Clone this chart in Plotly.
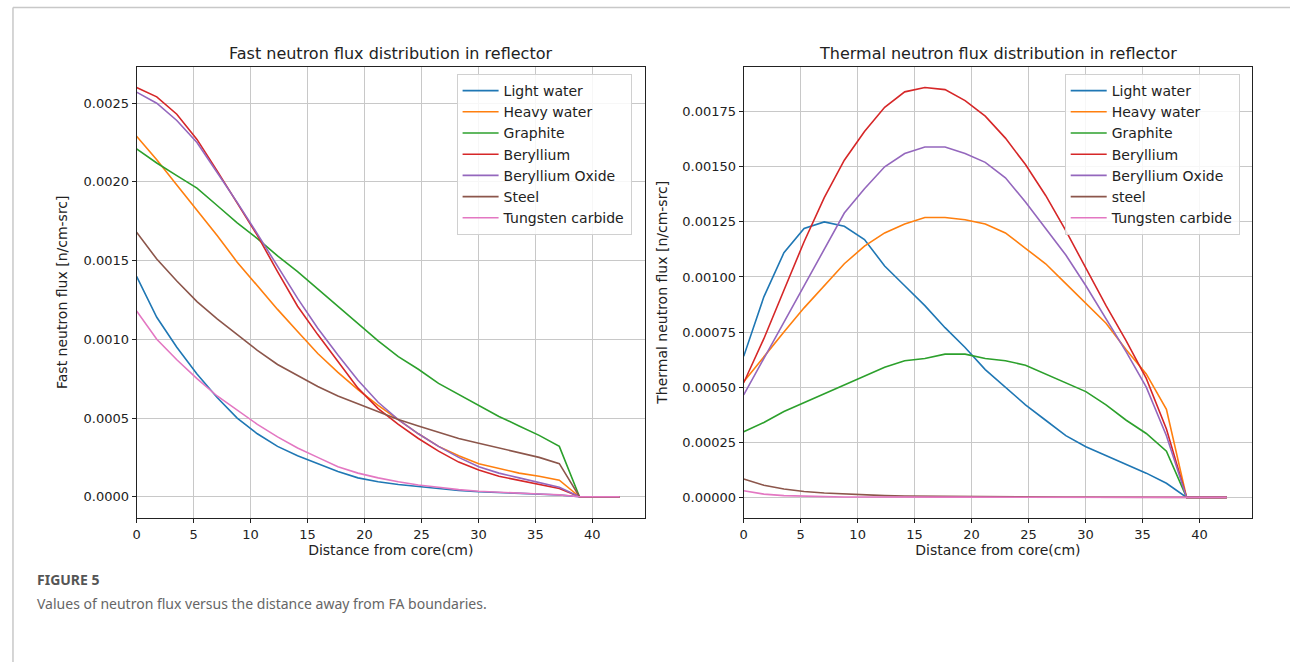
import plotly.graph_objects as go

W, H = 1290, 662

x = [0, 1.77, 3.53, 5.3, 7.07, 8.83, 10.6, 12.37, 14.13, 15.9, 17.67, 19.43, 21.2,
     22.97, 24.73, 26.5, 28.27, 30.03, 31.8, 33.57, 35.33, 37.1, 38.87, 40.63, 42.4]

names_fast = ["Light water", "Heavy water", "Graphite", "Beryllium", "Beryllium Oxide",
              "Steel", "Tungsten carbide"]
names_thermal = ["Light water", "Heavy water", "Graphite", "Beryllium", "Beryllium Oxide",
                 "steel", "Tungsten carbide"]

# Fast neutron flux [n/cm-src]
fast_light_water = [0.00140, 0.00114, 0.00095, 0.00078, 0.00063, 0.00050, 0.00040, 0.00032,
                    0.00026, 0.00021, 0.00016, 0.00012, 0.000095, 0.000078, 0.000064, 0.000052,
                    0.000040, 0.000032, 0.000026, 0.000020, 0.000016, 0.000011, 0, 0, 0]
fast_heavy_water = [0.00229, 0.00214, 0.00198, 0.00182, 0.00166, 0.00149, 0.00134, 0.00119,
                    0.00105, 0.00091, 0.00079, 0.00068, 0.00058, 0.00049, 0.00040, 0.00032,
                    0.00026, 0.00021, 0.00018, 0.00015, 0.00013, 0.000105, 0, 0, 0]
fast_graphite = [0.00221, 0.00212, 0.00204, 0.00196, 0.00185, 0.00174, 0.00164, 0.00153,
                 0.00143, 0.00132, 0.00121, 0.00110, 0.00099, 0.00089, 0.00081, 0.00072,
                 0.00065, 0.00058, 0.00051, 0.00045, 0.00039, 0.00032, 0, 0, 0]
fast_beryllium = [0.00260, 0.00254, 0.00243, 0.00227, 0.00207, 0.00187, 0.00166, 0.00143,
                  0.00121, 0.00103, 0.00086, 0.00069, 0.00056, 0.00046, 0.00037, 0.00029,
                  0.00022, 0.00017, 0.00013, 0.000105, 0.00008, 0.000053, 0, 0, 0]
fast_beo = [0.00257, 0.00250, 0.00239, 0.00225, 0.00206, 0.00187, 0.00167, 0.00146,
            0.00126, 0.00107, 0.00090, 0.00074, 0.00060, 0.00049, 0.00040, 0.00032,
            0.00025, 0.00019, 0.00015, 0.00012, 0.00009, 0.00006, 0, 0, 0]
fast_steel = [0.00168, 0.00151, 0.00137, 0.00124, 0.00113, 0.00103, 0.00093, 0.00084,
              0.00077, 0.00070, 0.00064, 0.00059, 0.00054, 0.00049, 0.00045, 0.00041,
              0.00037, 0.00034, 0.00031, 0.00028, 0.00025, 0.00021, 0, 0, 0]
fast_wc = [0.00118, 0.00100, 0.00087, 0.00075, 0.00064, 0.00055, 0.00046, 0.00038,
           0.00031, 0.00025, 0.00019, 0.00015, 0.00012, 0.000095, 0.000075, 0.000060,
           0.000045, 0.000035, 0.000028, 0.000022, 0.000017, 0.000012, 0, 0, 0]

# Thermal neutron flux [n/cm-src]
th_light_water = [0.00064, 0.00091, 0.00111, 0.00122, 0.00125, 0.00123, 0.00117, 0.00105,
                  0.00096, 0.00087, 0.00077, 0.00068, 0.00058, 0.00050, 0.00042, 0.00035,
                  0.00028, 0.00023, 0.00019, 0.00015, 0.00011, 0.000064, 0, 0, 0]
th_heavy_water = [0.000525, 0.00064, 0.00075, 0.00086, 0.00096, 0.00106, 0.00114, 0.00120,
                  0.00124, 0.00127, 0.00127, 0.00126, 0.00124, 0.00120, 0.00113, 0.00106,
                  0.00097, 0.00088, 0.00079, 0.00067, 0.00056, 0.00040, 0, 0, 0]
th_graphite = [0.000298, 0.00034, 0.00039, 0.00043, 0.00047, 0.00051, 0.00055, 0.00059,
               0.00062, 0.00063, 0.00065, 0.00065, 0.00063, 0.00062, 0.00060, 0.00056,
               0.00052, 0.00048, 0.00042, 0.00035, 0.00029, 0.00021, 0, 0, 0]
th_beryllium = [0.00052, 0.00072, 0.00094, 0.00116, 0.00136, 0.00153, 0.00166, 0.00177,
                0.00184, 0.00186, 0.00185, 0.00180, 0.00173, 0.00163, 0.00151, 0.00137,
                0.00121, 0.00104, 0.00087, 0.00071, 0.00054, 0.00031, 0, 0, 0]
th_beo = [0.000465, 0.00063, 0.00080, 0.00096, 0.00113, 0.00129, 0.00140, 0.00150,
          0.00156, 0.00159, 0.00159, 0.00156, 0.00152, 0.00145, 0.00134, 0.00122,
          0.00110, 0.00096, 0.00081, 0.00066, 0.00050, 0.00028, 0, 0, 0]
th_steel = [0.000083, 0.000055, 0.000038, 0.000027, 0.000020, 0.000015, 0.000011, 0.000008,
            0.000006, 0.000005, 0.000004, 0.000003, 0.000003, 0.000002, 0.000002, 0.000002,
            0.000001, 0.000001, 0.000001, 0.000001, 0.000001, 0.000001, 0, 0, 0]
th_wc = [0.00003, 0.000015, 0.000008, 0.000005, 0.000003, 0.000002, 0.000002, 0.000001,
         0.000001, 0.000001, 0.000001, 0.000001, 0.000001, 0.000001, 0, 0,
         0, 0, 0, 0, 0, 0, 0, 0, 0]

fast_series = [fast_light_water, fast_heavy_water, fast_graphite, fast_beryllium,
               fast_beo, fast_steel, fast_wc]
thermal_series = [th_light_water, th_heavy_water, th_graphite, th_beryllium,
                  th_beo, th_steel, th_wc]

colors = ["#1f77b4", "#ff7f0e", "#2ca02c", "#d62728", "#9467bd", "#8c564b", "#e377c2"]

FONT = "DejaVu Sans"

fig = go.Figure()
for name, ys, c in zip(names_fast, fast_series, colors):
    fig.add_trace(go.Scatter(x=x, y=ys, mode="lines", name=name,
                             line=dict(color=c, width=1.6),
                             xaxis="x", yaxis="y", legend="legend"))
for name, ys, c in zip(names_thermal, thermal_series, colors):
    fig.add_trace(go.Scatter(x=x, y=ys, mode="lines", name=name,
                             line=dict(color=c, width=1.6),
                             xaxis="x2", yaxis="y2", legend="legend2"))

def px_x(v):
    return v / W

def px_y(v):
    return 1 - v / H

top_px, bot_px = 66.5, 518
ax_common = dict(showline=True, linecolor="#222", linewidth=1, mirror=True,
                 ticks="outside", ticklen=4, tickcolor="#222",
                 showgrid=True, gridcolor="#c8c8c8", gridwidth=1, zeroline=False,
                 tickfont=dict(family=FONT, size=13, color="#222"))

leg_common = dict(xanchor="left", yanchor="top",
                  bgcolor="rgba(255,255,255,0.85)", bordercolor="#d0d0d0", borderwidth=1,
                  font=dict(family=FONT, size=14, color="#222"), tracegroupgap=0,
                  itemwidth=36)

fig.update_layout(
    width=W, height=H,
    margin=dict(l=0, r=0, t=0, b=0),
    paper_bgcolor="white", plot_bgcolor="white",
    font=dict(family=FONT, color="#222"),
    xaxis=dict(domain=[px_x(133), px_x(643)], range=[0, 44.62], tickvals=list(range(0, 45, 5)),
               anchor="y",
               title=dict(text="Distance from core(cm)", font=dict(size=14), standoff=4),
               **ax_common),
    yaxis=dict(domain=[px_y(bot_px), px_y(top_px)], range=[-0.000135, 0.002733],
               tickvals=[0, 0.0005, 0.001, 0.0015, 0.002, 0.0025], tickformat=".4f",
               anchor="x",
               title=dict(text="Fast neutron flux [n/cm-src]", font=dict(size=14), standoff=12),
               **ax_common),
    xaxis2=dict(domain=[px_x(742), px_x(1252)], range=[0, 44.62], tickvals=list(range(0, 45, 5)),
                anchor="y2",
                title=dict(text="Distance from core(cm)", font=dict(size=14), standoff=4),
                **ax_common),
    yaxis2=dict(domain=[px_y(bot_px), px_y(top_px)], range=[-0.0000935, 0.001955],
                tickvals=[0, 0.00025, 0.0005, 0.00075, 0.001, 0.00125, 0.0015, 0.00175],
                tickformat=".5f", anchor="x2",
                title=dict(text="Thermal neutron flux [n/cm-src]", font=dict(size=14), standoff=11),
                **ax_common),
    legend=dict(x=px_x(454), y=px_y(74), **leg_common),
    legend2=dict(x=px_x(1064), y=px_y(74), **leg_common),
    shapes=[
        dict(type="line", xref="paper", yref="paper", x0=px_x(9), x1=1, y0=px_y(7.5), y1=px_y(7.5),
             line=dict(color="#c8c8c8", width=1.5)),
        dict(type="line", xref="paper", yref="paper", x0=px_x(9), x1=px_x(9), y0=0, y1=px_y(7.5),
             line=dict(color="#c8c8c8", width=1.5)),
    ],
    annotations=[
        dict(text="Fast neutron flux distribution in reflector", xref="paper", yref="paper",
             x=px_x(388), y=px_y(54), xanchor="center", yanchor="middle", showarrow=False,
             font=dict(family=FONT, size=16, color="#222")),
        dict(text="Thermal neutron flux distribution in reflector", xref="paper", yref="paper",
             x=px_x(997), y=px_y(54), xanchor="center", yanchor="middle", showarrow=False,
             font=dict(family=FONT, size=16, color="#222")),
        dict(text="<b>FIGURE 5</b>", xref="paper", yref="paper",
             x=px_x(31), y=px_y(579), xanchor="left", yanchor="middle", showarrow=False,
             font=dict(family="Noto Sans", size=14, color="#555")),
        dict(text="Values of neutron flux versus the distance away from FA boundaries.",
             xref="paper", yref="paper",
             x=px_x(31), y=px_y(603), xanchor="left", yanchor="middle", showarrow=False,
             font=dict(family="Noto Sans", size=14, color="#666")),
    ],
)

fig.write_html("out.html", config={"displayModeBar": False})

# remove the default page margin so the figure sits at the window's origin
with open("out.html", "r", encoding="utf-8") as f:
    html = f.read()
html = html.replace("<head>", "<head><style>html,body{margin:0;padding:0;overflow:hidden;}</style>", 1)
with open("out.html", "w", encoding="utf-8") as f:
    f.write(html)
